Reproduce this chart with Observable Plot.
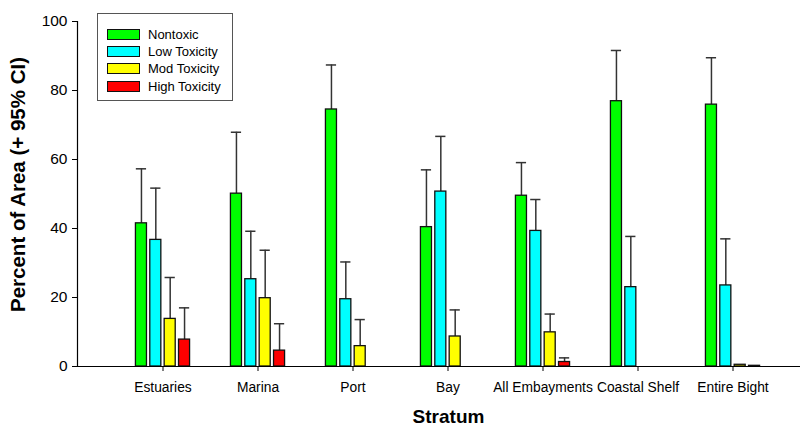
<!DOCTYPE html>
<html>
<head>
<meta charset="utf-8">
<script src="https://cdn.jsdelivr.net/npm/d3@7"></script>
<script src="https://cdn.jsdelivr.net/npm/@observablehq/plot@0.6"></script>
<style>
  html, body { margin: 0; padding: 0; background: #fff; }
  #wrap { position: relative; width: 803px; height: 426px; font-family: "Liberation Sans", Arial, sans-serif; }
  #legend { position: absolute; left: 97px; top: 13px; width: 136px; height: 88px; border: 1px solid #555; background: #fff; box-sizing: border-box; }
  .row { position: absolute; left: 9px; height: 12px; display: flex; align-items: center; font-size: 13px; color: #000; white-space: nowrap; }
  .sw { width: 31px; height: 9px; border: 1px solid #111; margin-right: 8px; }
</style>
</head>
<body>
<div id="wrap"></div>
<script>
const categories = ["Estuaries", "Marina", "Port", "Bay", "All Embayments", "Coastal Shelf", "Entire Bight"];
const seriesNames = ["Nontoxic", "Low Toxicity", "Mod Toxicity", "High Toxicity"];
const seriesColors = ["#00ff00", "#00ffff", "#ffff00", "#ff0000"];
const nontoxic   = [41.5, 50.1, 74.5, 40.4, 49.5, 76.9, 75.9];
const nontoxicCI = [57.3, 67.9, 87.4, 57.0, 59.1, 91.6, 89.5];
const lowTox     = [36.7, 25.3, 19.5, 50.7, 39.3, 23.0, 23.5];
const lowToxCI   = [51.7, 39.2, 30.3, 66.7, 48.4, 37.7, 37.0];
const modTox     = [13.8, 19.8, 5.9, 8.7, 9.9, 0, 0.5];
const modToxCI   = [25.8, 33.7, 13.6, 16.4, 15.2, null, null];
const highTox    = [7.8, 4.6, 0, 0, 1.3, 0, 0.2];
const highToxCI  = [17.0, 12.4, null, null, 2.5, null, null];
const yTicks = [0, 20, 40, 60, 80, 100];

const values = [nontoxic, lowTox, modTox, highTox];
const cis = [nontoxicCI, lowToxCI, modToxCI, highToxCI];

const slot = 57.47 / 4;
const gap = 1.43;

const marks = [];
values.forEach((vals, i) => {
  const rows = categories.map((c, j) => ({category: c, value: vals[j], ci: cis[i][j]}));
  const barRows = rows.filter(d => d.value > 0);
  const errRows = rows.filter(d => d.ci != null);
  const dx = (i - 1.5) * slot;
  marks.push(Plot.ruleX(errRows, {x: "category", y1: "value", y2: "ci", dx, stroke: "#333", strokeWidth: 1.5}));
  marks.push(Plot.tickY(errRows, {x: "category", y: "ci", insetLeft: i * slot + gap + 0.4, insetRight: (3 - i) * slot + gap + 0.4, stroke: "#333", strokeWidth: 1.5}));
  marks.push(Plot.barY(barRows, {x: "category", y: "value", fill: seriesColors[i], stroke: "#111", strokeWidth: 1.3, insetLeft: i * slot + gap, insetRight: (3 - i) * slot + gap}));
});

const chart = Plot.plot({
  width: 803,
  height: 426,
  marginLeft: 77,
  marginRight: 3,
  marginTop: 21,
  marginBottom: 60,
  style: {fontFamily: "'Liberation Sans', Arial, sans-serif", background: "#fff", color: "#000"},
  x: {domain: categories, paddingInner: 0.4, paddingOuter: 0.474, align: 0.59, axis: null},
  y: {domain: [0, 100], axis: null},
  marks: [
    ...marks,
    Plot.ruleY([0], {stroke: "#000", strokeWidth: 1.2}),
    Plot.frame({anchor: "left", stroke: "#000", strokeWidth: 1.2}),
    Plot.axisY(yTicks, {tickSize: 5, tickPadding: 5, fontSize: 15.5, label: null, stroke: "#000"}),
    Plot.axisX({tickSize: 5, tickPadding: 11, fontSize: 13.8, label: null, stroke: "#000"}),
    Plot.text(["Percent of Area (+ 95% CI)"], {frameAnchor: "left", textAnchor: "middle", rotate: -90, dx: -59.5, dy: -9.5, fontSize: 20.5, fontWeight: "bold", fill: "#000"}),
    Plot.text(["Stratum"], {frameAnchor: "bottom", dx: 9.5, dy: 56, fontSize: 19, fontWeight: "bold", fill: "#000"})
  ]
});

const wrap = document.getElementById("wrap");
wrap.appendChild(chart);

const legend = document.createElement("div");
legend.id = "legend";
seriesNames.forEach((name, i) => {
  const row = document.createElement("div");
  row.className = "row";
  row.style.top = (14 + i * 17.4) + "px";
  const sw = document.createElement("div");
  sw.className = "sw";
  sw.style.background = seriesColors[i];
  row.appendChild(sw);
  row.appendChild(document.createTextNode(name));
  legend.appendChild(row);
});
wrap.appendChild(legend);
</script>
</body>
</html>
